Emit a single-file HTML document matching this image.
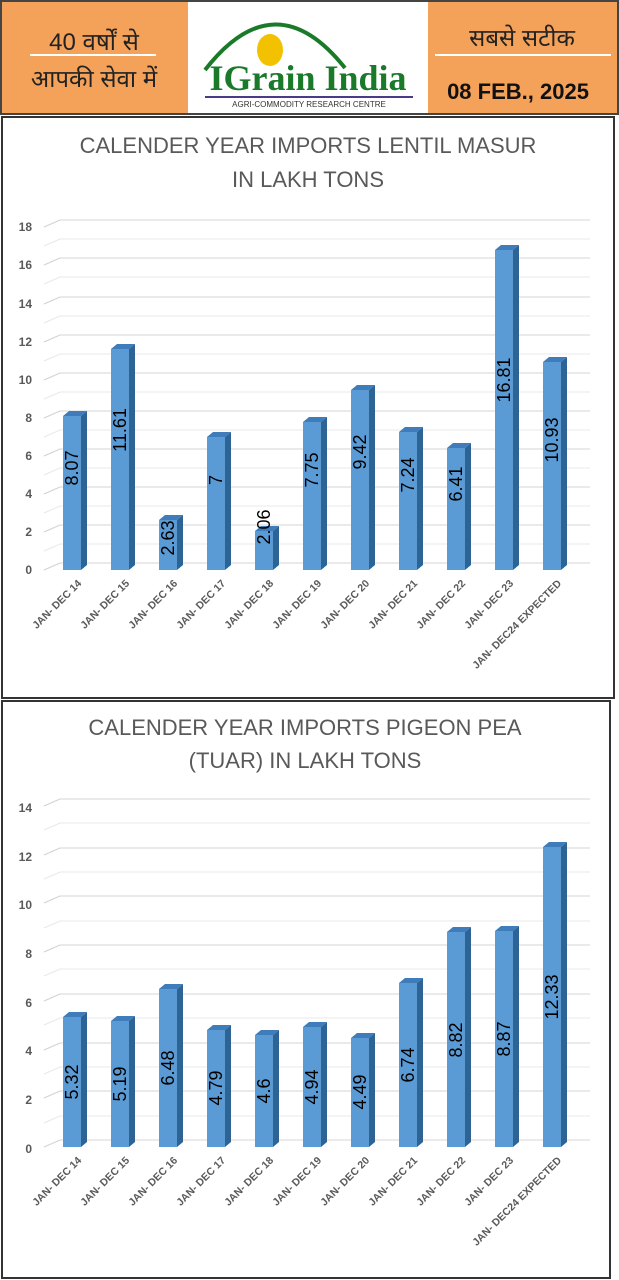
<!DOCTYPE html>
<html><head><meta charset="utf-8"><style>
html,body{margin:0;padding:0;background:#fff;width:619px;height:1280px;overflow:hidden}
svg{display:block}
.t{font-family:"Liberation Sans",sans-serif;fill:#595959}
.yl{font-family:"Liberation Sans",sans-serif;font-size:12px;font-weight:bold;fill:#595959;text-anchor:end}
.xl{font-family:"Liberation Sans",sans-serif;font-size:10.5px;font-weight:bold;fill:#595959;text-anchor:end}
.v{font-family:"Liberation Sans",sans-serif;font-size:18px;fill:#000;text-anchor:middle;dominant-baseline:middle}
.f{fill:#5b9bd5}.s{fill:#2e6395}.tp{fill:#3f7cba}
</style></head><body>
<svg width="619" height="1280" viewBox="0 0 619 1280" xmlns="http://www.w3.org/2000/svg">
<!-- header -->
<rect x="1" y="1" width="617" height="113" fill="#fff" stroke="#444" stroke-width="2"/>
<rect x="2" y="2" width="186" height="111" fill="#f4a259"/>
<rect x="428" y="2" width="189" height="111" fill="#f4a259"/>
<text x="94" y="50" text-anchor="middle" font-family="'Liberation Sans','Noto Sans CJK SC',sans-serif" font-size="24" fill="#222">40 वर्षों से</text>
<rect x="30" y="54" width="126" height="2" fill="#fff"/>
<text x="94" y="87" text-anchor="middle" font-family="'Liberation Sans','Noto Sans CJK SC',sans-serif" font-size="24" fill="#222">आपकी सेवा में</text>
<text x="522" y="46" text-anchor="middle" font-family="'Liberation Sans','Noto Sans CJK SC',sans-serif" font-size="24" fill="#222">सबसे सटीक</text>
<rect x="435" y="54" width="176" height="2" fill="#fff"/>
<text x="518" y="99" text-anchor="middle" font-family="'Liberation Sans',sans-serif" font-size="22" font-weight="bold" fill="#111">08 FEB., 2025</text>
<path d="M205 70 Q275 -20 345 68" fill="none" stroke="#1a7a2a" stroke-width="4"/>
<ellipse cx="270" cy="50" rx="13" ry="16" fill="#f2c200"/>
<text x="308" y="90" text-anchor="middle" font-family="'Liberation Serif',serif" font-size="36" font-weight="bold" fill="#1a7a2a">IGrain India</text>
<rect x="205" y="96" width="208" height="2" fill="#4b3a8a"/>
<text x="309" y="107" text-anchor="middle" font-family="'Liberation Sans',sans-serif" font-size="8" fill="#333">AGRI-COMMODITY RESEARCH CENTRE</text>

<!-- chart 1 -->
<rect x="2" y="117" width="612" height="581" fill="#fff" stroke="#333" stroke-width="2"/>
<text class="t" x="308" y="153" text-anchor="middle" font-size="22">CALENDER YEAR IMPORTS LENTIL MASUR</text>
<text class="t" x="308" y="187" text-anchor="middle" font-size="22">IN LAKH TONS</text>
<g stroke="#e8e8e8" stroke-width="1" fill="none">
<path d="M44 570L60 563H590M44 551L60 544H590M44 532L60 525H590M44 513L60 506H590M44 494L60 487H590M44 475L60 468H590M44 456L60 449H590M44 437L60 430H590M44 418L60 411H590M44 399L60 392H590M44 380L60 373H590M44 361L60 354H590M44 342L60 335H590M44 323L60 316H590M44 304L60 297H590M44 284L60 277H590M44 265L60 258H590M44 246L60 239H590M44 227L60 220H590"/>
</g>
<g stroke="#d4d4d4" fill="none"><path d="M44 570L60 563H590M44 532L60 525H590M44 494L60 487H590M44 456L60 449H590M44 418L60 411H590M44 380L60 373H590M44 342L60 335H590M44 304L60 297H590M44 265L60 258H590M44 227L60 220H590"/></g>
<g>
<text class="yl" x="32" y="574">0</text><text class="yl" x="32" y="536">2</text><text class="yl" x="32" y="498">4</text><text class="yl" x="32" y="460">6</text><text class="yl" x="32" y="422">8</text><text class="yl" x="32" y="384">10</text><text class="yl" x="32" y="346">12</text><text class="yl" x="32" y="308">14</text><text class="yl" x="32" y="269">16</text><text class="yl" x="32" y="231">18</text>
</g>
<g>
<rect class="f" x="63" y="416" width="18" height="154"/><polygon class="s" points="81,416 87,411 87,565 81,570"/><polygon class="tp" points="63,416 69,411 87,411 81,416"/>
<rect class="f" x="111" y="349" width="18" height="221"/><polygon class="s" points="129,349 135,344 135,565 129,570"/><polygon class="tp" points="111,349 117,344 135,344 129,349"/>
<rect class="f" x="159" y="520" width="18" height="50"/><polygon class="s" points="177,520 183,515 183,565 177,570"/><polygon class="tp" points="159,520 165,515 183,515 177,520"/>
<rect class="f" x="207" y="437" width="18" height="133"/><polygon class="s" points="225,437 231,432 231,565 225,570"/><polygon class="tp" points="207,437 213,432 231,432 225,437"/>
<rect class="f" x="255" y="531" width="18" height="39"/><polygon class="s" points="273,531 279,526 279,565 273,570"/><polygon class="tp" points="255,531 261,526 279,526 273,531"/>
<rect class="f" x="303" y="422" width="18" height="148"/><polygon class="s" points="321,422 327,417 327,565 321,570"/><polygon class="tp" points="303,422 309,417 327,417 321,422"/>
<rect class="f" x="351" y="390" width="18" height="180"/><polygon class="s" points="369,390 375,385 375,565 369,570"/><polygon class="tp" points="351,390 357,385 375,385 369,390"/>
<rect class="f" x="399" y="432" width="18" height="138"/><polygon class="s" points="417,432 423,427 423,565 417,570"/><polygon class="tp" points="399,432 405,427 423,427 417,432"/>
<rect class="f" x="447" y="448" width="18" height="122"/><polygon class="s" points="465,448 471,443 471,565 465,570"/><polygon class="tp" points="447,448 453,443 471,443 465,448"/>
<rect class="f" x="495" y="250" width="18" height="320"/><polygon class="s" points="513,250 519,245 519,565 513,570"/><polygon class="tp" points="495,250 501,245 519,245 513,250"/>
<rect class="f" x="543" y="362" width="18" height="208"/><polygon class="s" points="561,362 567,357 567,565 561,570"/><polygon class="tp" points="543,362 549,357 567,357 561,362"/>
</g>
<g>
<text class="v" transform="translate(73,468) rotate(-90)">8.07</text>
<text class="v" transform="translate(121,430) rotate(-90)">11.61</text>
<text class="v" transform="translate(169,538) rotate(-90)">2.63</text>
<text class="v" transform="translate(217,480) rotate(-90)">7</text>
<text class="v" transform="translate(265,527) rotate(-90)">2.06</text>
<text class="v" transform="translate(313,470) rotate(-90)">7.75</text>
<text class="v" transform="translate(361,452) rotate(-90)">9.42</text>
<text class="v" transform="translate(409,475) rotate(-90)">7.24</text>
<text class="v" transform="translate(457,484) rotate(-90)">6.41</text>
<text class="v" transform="translate(505,380) rotate(-90)">16.81</text>
<text class="v" transform="translate(553,440) rotate(-90)">10.93</text>
</g>
<g>
<text class="xl" transform="translate(82,584) rotate(-45)">JAN- DEC 14</text>
<text class="xl" transform="translate(130,584) rotate(-45)">JAN- DEC 15</text>
<text class="xl" transform="translate(178,584) rotate(-45)">JAN- DEC 16</text>
<text class="xl" transform="translate(226,584) rotate(-45)">JAN- DEC 17</text>
<text class="xl" transform="translate(274,584) rotate(-45)">JAN- DEC 18</text>
<text class="xl" transform="translate(322,584) rotate(-45)">JAN- DEC 19</text>
<text class="xl" transform="translate(370,584) rotate(-45)">JAN- DEC 20</text>
<text class="xl" transform="translate(418,584) rotate(-45)">JAN- DEC 21</text>
<text class="xl" transform="translate(466,584) rotate(-45)">JAN- DEC 22</text>
<text class="xl" transform="translate(514,584) rotate(-45)">JAN- DEC 23</text>
<text class="xl" transform="translate(562,584) rotate(-45)">JAN- DEC24 EXPECTED</text>
</g>

<!-- chart 2 -->
<rect x="2" y="701" width="608" height="577" fill="#fff" stroke="#333" stroke-width="2"/>
<text class="t" x="305" y="735" text-anchor="middle" font-size="22">CALENDER YEAR IMPORTS PIGEON PEA</text>
<text class="t" x="305" y="768" text-anchor="middle" font-size="22">(TUAR) IN LAKH TONS</text>
<g stroke="#e8e8e8" fill="none">
<path d="M44 1147L60 1140H590M44 1123L60 1116H590M44 1098L60 1091H590M44 1074L60 1067H590M44 1050L60 1043H590M44 1025L60 1018H590M44 1001L60 994H590M44 976L60 969H590M44 952L60 945H590M44 928L60 921H590M44 903L60 896H590M44 879L60 872H590M44 855L60 848H590M44 830L60 823H590M44 806L60 799H590"/>
</g>
<g stroke="#d4d4d4" fill="none"><path d="M44 1147L60 1140H590M44 1098L60 1091H590M44 1050L60 1043H590M44 1001L60 994H590M44 952L60 945H590M44 903L60 896H590M44 855L60 848H590M44 806L60 799H590"/></g>
<g>
<text class="yl" x="32" y="1153">0</text><text class="yl" x="32" y="1104">2</text><text class="yl" x="32" y="1055">4</text><text class="yl" x="32" y="1007">6</text><text class="yl" x="32" y="958">8</text><text class="yl" x="32" y="909">10</text><text class="yl" x="32" y="861">12</text><text class="yl" x="32" y="812">14</text>
</g>
<g>
<rect class="f" x="63" y="1017" width="18" height="130"/><polygon class="s" points="81,1017 87,1012 87,1142 81,1147"/><polygon class="tp" points="63,1017 69,1012 87,1012 81,1017"/>
<rect class="f" x="111" y="1021" width="18" height="126"/><polygon class="s" points="129,1021 135,1016 135,1142 129,1147"/><polygon class="tp" points="111,1021 117,1016 135,1016 129,1021"/>
<rect class="f" x="159" y="989" width="18" height="158"/><polygon class="s" points="177,989 183,984 183,1142 177,1147"/><polygon class="tp" points="159,989 165,984 183,984 177,989"/>
<rect class="f" x="207" y="1030" width="18" height="117"/><polygon class="s" points="225,1030 231,1025 231,1142 225,1147"/><polygon class="tp" points="207,1030 213,1025 231,1025 225,1030"/>
<rect class="f" x="255" y="1035" width="18" height="112"/><polygon class="s" points="273,1035 279,1030 279,1142 273,1147"/><polygon class="tp" points="255,1035 261,1030 279,1030 273,1035"/>
<rect class="f" x="303" y="1027" width="18" height="120"/><polygon class="s" points="321,1027 327,1022 327,1142 321,1147"/><polygon class="tp" points="303,1027 309,1022 327,1022 321,1027"/>
<rect class="f" x="351" y="1038" width="18" height="109"/><polygon class="s" points="369,1038 375,1033 375,1142 369,1147"/><polygon class="tp" points="351,1038 357,1033 375,1033 369,1038"/>
<rect class="f" x="399" y="983" width="18" height="164"/><polygon class="s" points="417,983 423,978 423,1142 417,1147"/><polygon class="tp" points="399,983 405,978 423,978 417,983"/>
<rect class="f" x="447" y="932" width="18" height="215"/><polygon class="s" points="465,932 471,927 471,1142 465,1147"/><polygon class="tp" points="447,932 453,927 471,927 465,932"/>
<rect class="f" x="495" y="931" width="18" height="216"/><polygon class="s" points="513,931 519,926 519,1142 513,1147"/><polygon class="tp" points="495,931 501,926 519,926 513,931"/>
<rect class="f" x="543" y="847" width="18" height="300"/><polygon class="s" points="561,847 567,842 567,1142 561,1147"/><polygon class="tp" points="543,847 549,842 567,842 561,847"/>
</g>
<g>
<text class="v" transform="translate(73,1082) rotate(-90)">5.32</text>
<text class="v" transform="translate(121,1084) rotate(-90)">5.19</text>
<text class="v" transform="translate(169,1068) rotate(-90)">6.48</text>
<text class="v" transform="translate(217,1088) rotate(-90)">4.79</text>
<text class="v" transform="translate(265,1091) rotate(-90)">4.6</text>
<text class="v" transform="translate(313,1087) rotate(-90)">4.94</text>
<text class="v" transform="translate(361,1092) rotate(-90)">4.49</text>
<text class="v" transform="translate(409,1065) rotate(-90)">6.74</text>
<text class="v" transform="translate(457,1040) rotate(-90)">8.82</text>
<text class="v" transform="translate(505,1039) rotate(-90)">8.87</text>
<text class="v" transform="translate(553,997) rotate(-90)">12.33</text>
</g>
<g>
<text class="xl" transform="translate(82,1161) rotate(-45)">JAN- DEC 14</text>
<text class="xl" transform="translate(130,1161) rotate(-45)">JAN- DEC 15</text>
<text class="xl" transform="translate(178,1161) rotate(-45)">JAN- DEC 16</text>
<text class="xl" transform="translate(226,1161) rotate(-45)">JAN- DEC 17</text>
<text class="xl" transform="translate(274,1161) rotate(-45)">JAN- DEC 18</text>
<text class="xl" transform="translate(322,1161) rotate(-45)">JAN- DEC 19</text>
<text class="xl" transform="translate(370,1161) rotate(-45)">JAN- DEC 20</text>
<text class="xl" transform="translate(418,1161) rotate(-45)">JAN- DEC 21</text>
<text class="xl" transform="translate(466,1161) rotate(-45)">JAN- DEC 22</text>
<text class="xl" transform="translate(514,1161) rotate(-45)">JAN- DEC 23</text>
<text class="xl" transform="translate(562,1161) rotate(-45)">JAN- DEC24 EXPECTED</text>
</g>
</svg>
</body></html>
